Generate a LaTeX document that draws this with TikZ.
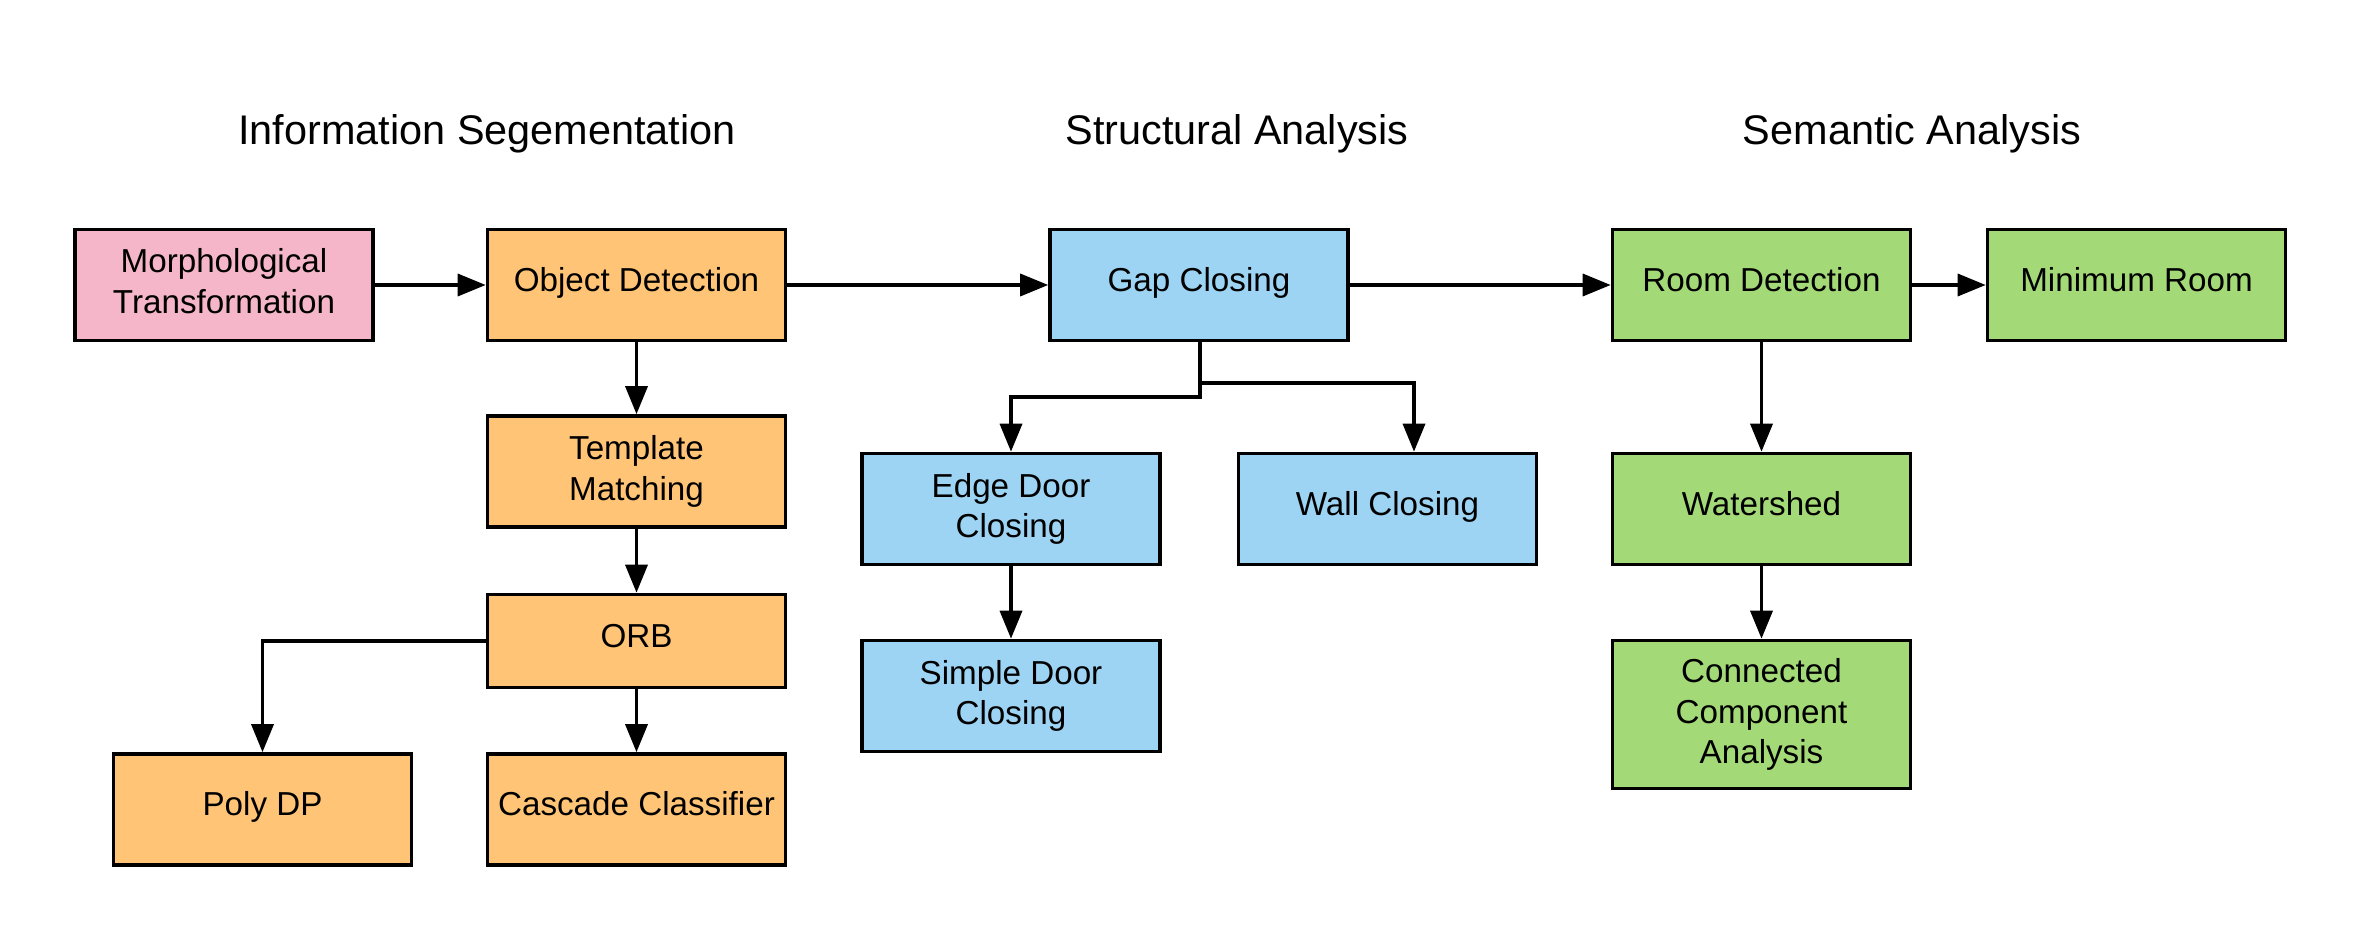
\documentclass[tikz,border=0pt]{standalone}
\usepackage{fontspec}
\setmainfont{Liberation Sans}
\usetikzlibrary{arrows.meta}
\definecolor{cpink}{HTML}{F4B6C8}
\definecolor{corange}{HTML}{FFC476}
\definecolor{cblue}{HTML}{9DD3F3}
\definecolor{cgreen}{HTML}{A4D978}
\tikzset{
  box/.style={draw=black, line width=1.8pt, inner sep=0pt, minimum width=149pt, minimum height=55.5pt,
    align=center, font=\fontsize{16.6}{20.2}\selectfont},
  one/.style={text height=0.85em, text depth=0.21em},
  pinkbox/.style={box, fill=cpink},
  orangebox/.style={box, fill=corange},
  bluebox/.style={box, fill=cblue},
  greenbox/.style={box, fill=cgreen},
  title/.style={font=\fontsize{20.7}{24}\selectfont, inner sep=0pt},
  arr/.style={line width=1.75pt, -{Triangle[length=14pt,width=11pt]}},
}
\begin{document}
\begin{tikzpicture}[x=0.5pt, y=-0.5pt]
\useasboundingbox[fill=white] (0,0) rectangle (2363,941);
\node[title] (t1) at (487,134) {Information Segementation};
\node[title] (t2) at (1237,134) {Structural Analysis};
\node[title] (t3) at (1912,134) {Semantic Analysis};

\node[pinkbox] (morph) at (224,285) {\raisebox{2pt}{\begin{tabular}{@{}c@{}}Morphological\\Transformation\end{tabular}}};
\node[orangebox, one] (obj) at (636.5,285) {Object Detection};
\node[bluebox, one] (gap) at (1199,285) {Gap Closing};
\node[greenbox, one] (room) at (1761.5,285) {Room Detection};
\node[greenbox, one] (minroom) at (2136.5,285) {Minimum Room};
\node[orangebox] (tmpl) at (636.5,471.5) {Template\\Matching};
\node[bluebox] (edge) at (1011,509) {Edge Door\\Closing};
\node[bluebox, one] (wall) at (1387.5,509) {Wall Closing};
\node[greenbox, one] (water) at (1761.5,509) {Watershed};
\node[orangebox, one, minimum height=46.5pt] (orb) at (636.5,641) {ORB};
\node[bluebox] (simple) at (1011,696) {Simple Door\\Closing};
\node[greenbox, minimum height=74pt] (conn) at (1761.5,714.5) {Connected\\Component\\Analysis};
\node[orangebox, one] (poly) at (262.5,809.5) {Poly DP};
\node[orangebox, one] (casc) at (636.5,809.5) {Cascade Classifier};

\draw[arr] (morph) -- (obj);
\draw[arr] (obj) -- (gap);
\draw[arr] (gap) -- (room);
\draw[arr] (room) -- (minroom);
\draw[arr] (obj) -- (tmpl);
\draw[arr] (tmpl) -- (orb);
\draw[arr] (orb) -- (casc);
\draw[arr] (orb.west) -| (poly.north);
\coordinate (eb) at (1200,397);
\coordinate (wb) at (1200,383);
\coordinate (wallin) at ([xshift=13.25pt]wall.north);
\draw[arr] ([xshift=0.5pt]gap.south) -- (eb) -| (edge.north);
\draw[arr] (wb) -| (wallin);
\draw[arr] (edge) -- (simple);
\draw[arr] (room) -- (water);
\draw[arr] (water) -- (conn);
\end{tikzpicture}
\end{document}
